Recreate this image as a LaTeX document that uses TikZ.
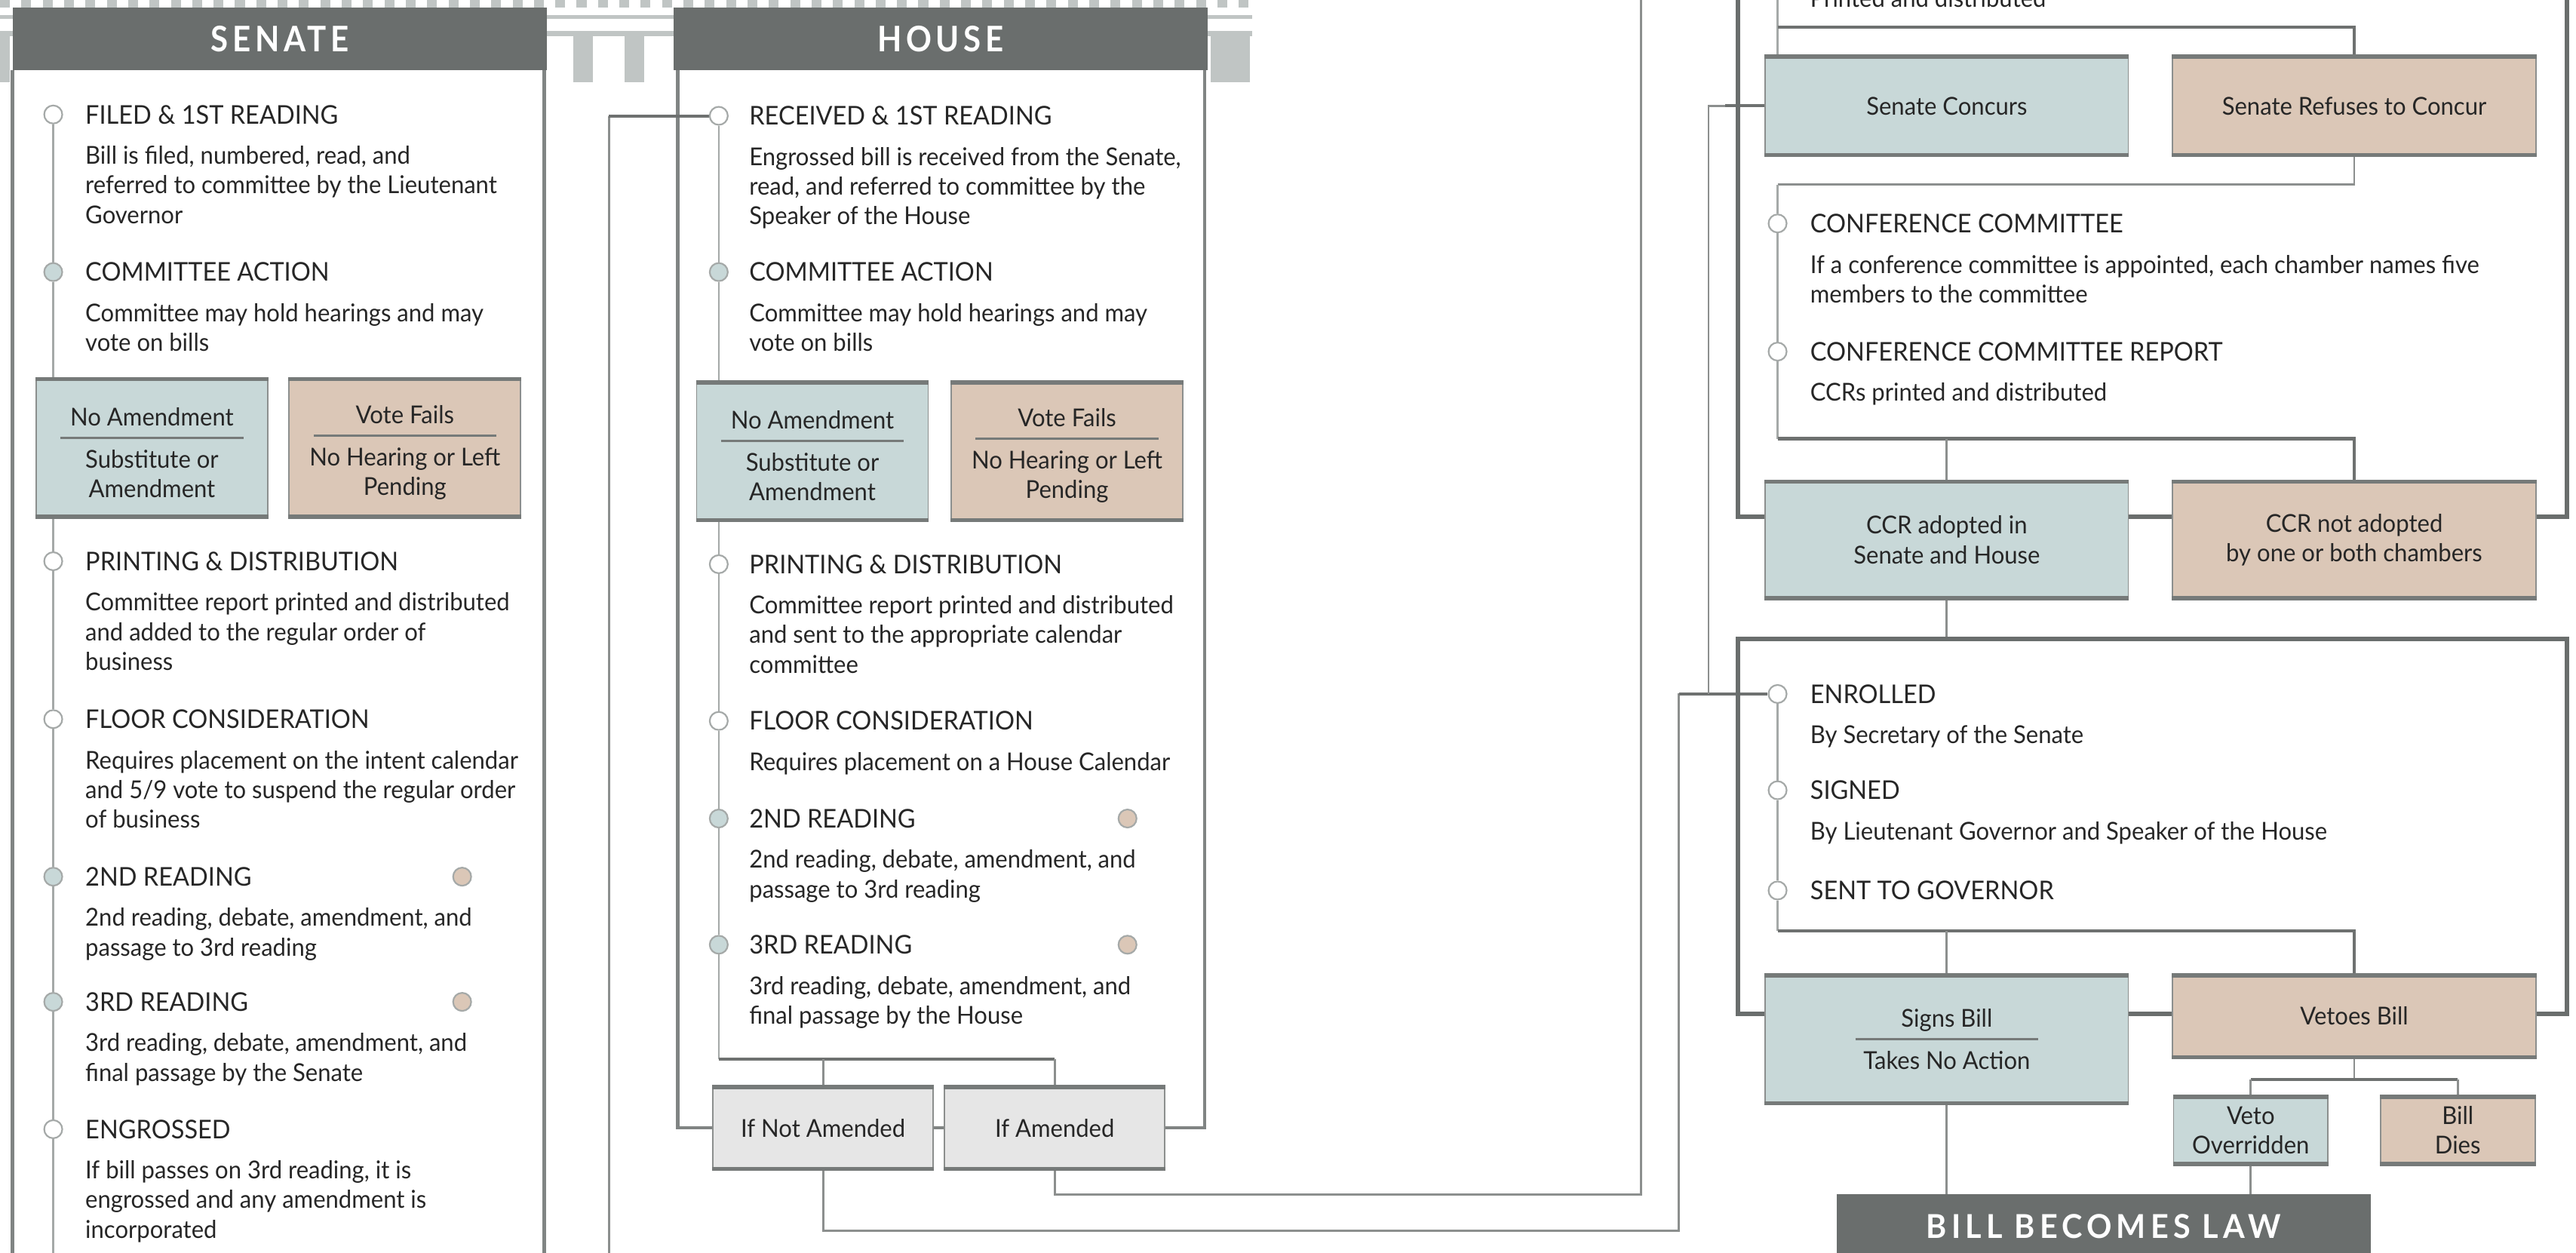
\documentclass[tikz,border=0pt]{standalone}
\usepackage{fontspec}
\setmainfont{Lato}[FakeStretch=0.95]
\newfontfamily\headfont{Lato}[FakeStretch=0.9, LetterSpace=12]
\newfontfamily\lawfont{Lato}[FakeStretch=0.95, LetterSpace=14]
\usepackage{xcolor}
\usetikzlibrary{positioning}

\definecolor{chamberGray}{RGB}{106,110,109}
\definecolor{capitolGray}{RGB}{192,197,196}
\definecolor{agreeBlue}{RGB}{200,216,216}
\definecolor{refuseTan}{RGB}{219,199,183}
\definecolor{neutralGray}{RGB}{230,230,230}
\definecolor{inkGray}{RGB}{38,38,38}
\definecolor{trackGray}{RGB}{165,169,168}
\definecolor{linkGray}{RGB}{140,143,142}
\definecolor{busGray}{RGB}{110,113,112}
\definecolor{boxLine}{RGB}{140,143,142}
\definecolor{boxEdge}{RGB}{118,122,121}

\newcommand{\titlefont}{\fontsize{11}{12.6}\selectfont}
\newcommand{\itemfont}{\fontsize{10.5}{12.6}\selectfont}
\newcommand{\splitrule}{\\[-7pt]{\color{boxEdge}\rule{78pt}{1pt}}\\[-0.4pt]}
\newcommand{\topstrut}{\rule{0pt}{11.7pt}}

\pgfdeclarelayer{back}
\pgfdeclarelayer{links}
\pgfsetlayers{back,links,main}

\tikzset{
  chamber/.style={fill=chamberGray, text=white, inner sep=0pt, minimum width=227.5pt, minimum height=26.6pt, font=\fontsize{15}{18}\headfont\bfseries},
  lawbox/.style={chamber, minimum height=27.3pt, font=\fontsize{14}{17}\lawfont\bfseries},
  opendot/.style={circle, draw=trackGray, fill=white, line width=0.7pt, minimum size=7.7pt, inner sep=0pt},
  passdot/.style={opendot, fill=agreeBlue},
  faildot/.style={opendot, fill=refuseTan},
  itemtitle/.style={anchor=west, inner sep=0pt, font=\titlefont, text=inkGray},
  itemtext/.style={inner sep=0pt, align=left, font=\itemfont, text=inkGray},
  outcome/.style={draw=boxLine, line width=0.6pt, align=center, inner sep=1pt, font=\itemfont, text=inkGray,
    append after command={(\tikzlastnode.north west) edge[draw=boxEdge, line width=1.8pt] (\tikzlastnode.north east)
      (\tikzlastnode.south west) edge[draw=boxEdge, line width=1.8pt] (\tikzlastnode.south east)}},
  agree/.style={outcome, fill=agreeBlue},
  refuse/.style={outcome, fill=refuseTan},
  neutral/.style={outcome, fill=neutralGray},
  choicebox/.style={minimum width=98.7pt, minimum height=58.1pt},
  amendbox/.style={minimum width=93.8pt, minimum height=34.3pt},
  widebox/.style={minimum width=154.7pt},
  narrowbox/.style={minimum width=65.8pt, minimum height=28pt},
  track/.style={draw=trackGray, line width=0.8pt},
  link/.style={draw=linkGray, line width=0.9pt},
  bus/.style={draw=busGray, line width=1.3pt},
  chamberframe/.style={draw=chamberGray, line width=2pt},
  panel/.style={draw=chamberGray!85, line width=1.5pt},
  capitol/.style={fill=capitolGray},
}

\begin{document}
\begin{tikzpicture}[x=0.7pt, y=-0.7pt]
  \useasboundingbox (0,0) rectangle (1568,762.2);

  \node[chamber] (senate) at (170.5,23.5) {SENATE};
  \node[chamber] (house) at (572.5,23.5) {HOUSE};

  % senate column
  \node[opendot] (s1) at (32.4,69.7) {};
  \node[itemtitle] (s1t) at (51.7,69.7) {FILED \& 1ST READING};
  \node[itemtext, below right=9pt and 0pt of s1t.south west] (s1d) {Bill is filed, numbered, read, and\\referred to committee by the Lieutenant\\Governor};
  \node[passdot] (s2) at (32.4,165.6) {};
  \node[itemtitle] (s2t) at (51.7,165.6) {COMMITTEE ACTION};
  \node[itemtext, below right=9pt and 0pt of s2t.south west] (s2d) {Committee may hold hearings and may\\vote on bills};
  \node[agree, choicebox] (snoamend) at (92.5,272.7) {\topstrut No Amendment\splitrule Substitute or\\Amendment};
  \node[refuse, choicebox] (sfail) at (246.5,272.7) {\topstrut Vote Fails\splitrule No Hearing or Left\\Pending};
  \node[opendot] (s3) at (32.4,341.6) {};
  \node[itemtitle] (s3t) at (51.7,341.6) {PRINTING \& DISTRIBUTION};
  \node[itemtext, below right=9pt and 0pt of s3t.south west] (s3d) {Committee report printed and distributed\\and added to the regular order of\\business};
  \node[opendot] (s4) at (32.4,437.7) {};
  \node[itemtitle] (s4t) at (51.7,437.7) {FLOOR CONSIDERATION};
  \node[itemtext, below right=9pt and 0pt of s4t.south west] (s4d) {Requires placement on the intent calendar\\and 5/9 vote to suspend the regular order\\of business};
  \node[passdot] (s5) at (32.4,533.6) {};
  \node[faildot] (s5x) at (281.3,533.6) {};
  \node[itemtitle] (s5t) at (51.7,533.6) {2ND READING};
  \node[itemtext, below right=9pt and 0pt of s5t.south west] (s5d) {2nd reading, debate, amendment, and\\passage to 3rd reading};
  \node[passdot] (s6) at (32.4,609.8) {};
  \node[faildot] (s6x) at (281.3,609.8) {};
  \node[itemtitle] (s6t) at (51.7,609.8) {3RD READING};
  \node[itemtext, below right=9pt and 0pt of s6t.south west] (s6d) {3rd reading, debate, amendment, and\\final passage by the Senate};
  \node[opendot] (s7) at (32.4,687.3) {};
  \node[itemtitle] (s7t) at (51.7,687.3) {ENGROSSED};
  \node[itemtext, below right=9pt and 0pt of s7t.south west] (s7d) {If bill passes on 3rd reading, it is\\engrossed and any amendment is\\incorporated};

  % house column
  \node[opendot] (h1) at (437.5,70.5) {};
  \node[itemtitle] (h1t) at (455.8,70.5) {RECEIVED \& 1ST READING};
  \node[itemtext, below right=9pt and 0pt of h1t.south west] (h1d) {Engrossed bill is received from the Senate,\\read, and referred to committee by the\\Speaker of the House};
  \node[passdot] (h2) at (437.5,165.6) {};
  \node[itemtitle] (h2t) at (455.8,165.6) {COMMITTEE ACTION};
  \node[itemtext, below right=9pt and 0pt of h2t.south west] (h2d) {Committee may hold hearings and may\\vote on bills};
  \node[agree, choicebox] (hnoamend) at (494.5,274.6) {\topstrut No Amendment\splitrule Substitute or\\Amendment};
  \node[refuse, choicebox] (hfail) at (649.5,274.6) {\topstrut Vote Fails\splitrule No Hearing or Left\\Pending};
  \node[opendot] (h3) at (437.5,343.4) {};
  \node[itemtitle] (h3t) at (455.8,343.4) {PRINTING \& DISTRIBUTION};
  \node[itemtext, below right=9pt and 0pt of h3t.south west] (h3d) {Committee report printed and distributed\\and sent to the appropriate calendar\\committee};
  \node[opendot] (h4) at (437.5,438.8) {};
  \node[itemtitle] (h4t) at (455.8,438.8) {FLOOR CONSIDERATION};
  \node[itemtext, below right=9pt and 0pt of h4t.south west] (h4d) {Requires placement on a House Calendar};
  \node[passdot] (h5) at (437.5,498.2) {};
  \node[faildot] (h5x) at (686.3,498.2) {};
  \node[itemtitle] (h5t) at (455.8,498.2) {2ND READING};
  \node[itemtext, below right=9pt and 0pt of h5t.south west] (h5d) {2nd reading, debate, amendment, and\\passage to 3rd reading};
  \node[passdot] (h6) at (437.5,575) {};
  \node[faildot] (h6x) at (686.3,575) {};
  \node[itemtitle] (h6t) at (455.8,575) {3RD READING};
  \node[itemtext, below right=9pt and 0pt of h6t.south west] (h6d) {3rd reading, debate, amendment, and\\final passage by the House};
  \node[neutral, amendbox] (ifnot) at (501,686.5) {If Not Amended};
  \node[neutral, amendbox] (ifamend) at (642,686.5) {If Amended};

  % concurrence and conference
  \node[itemtext, anchor=west] (hprint) at (1101.6,-1) {Printed and distributed};
  \node[agree, widebox, minimum height=41.3pt] (concur) at (1185,64.5) {Senate Concurs};
  \node[refuse, widebox, minimum height=41.3pt] (refusal) at (1433,64.5) {Senate Refuses to Concur};
  \node[opendot] (c1) at (1082,136) {};
  \node[itemtitle] (c1t) at (1101.6,136) {CONFERENCE COMMITTEE};
  \node[itemtext, below right=9pt and 0pt of c1t.south west] (c1d) {If a conference committee is appointed, each chamber names five\\members to the committee};
  \node[opendot] (c2) at (1082,214) {};
  \node[itemtitle] (c2t) at (1101.6,214) {CONFERENCE COMMITTEE REPORT};
  \node[itemtext, below right=9pt and 0pt of c2t.south west] (c2d) {CCRs printed and distributed};
  \node[agree, widebox, minimum height=49pt] (ccryes) at (1185,328.6) {CCR adopted in\\Senate and House};
  \node[refuse, widebox, minimum height=49pt] (ccrno) at (1433,328.6) {CCR not adopted\\by one or both chambers};

  % enrolment and governor
  \node[opendot] (e1) at (1082,422.4) {};
  \node[itemtitle] (e1t) at (1101.6,422.4) {ENROLLED};
  \node[itemtext, below right=9pt and 0pt of e1t.south west] (e1d) {By Secretary of the Senate};
  \node[opendot] (e2) at (1082,481) {};
  \node[itemtitle] (e2t) at (1101.6,481) {SIGNED};
  \node[itemtext, below right=9pt and 0pt of e2t.south west] (e2d) {By Lieutenant Governor and Speaker of the House};
  \node[opendot] (e3) at (1082,542) {};
  \node[itemtitle] (e3t) at (1101.6,542) {SENT TO GOVERNOR};
  \node[agree, widebox, minimum height=53.9pt] (signs) at (1185,632.5) {Signs Bill\splitrule Takes No Action};
  \node[refuse, widebox, minimum height=34.3pt] (vetoes) at (1433,618.5) {Vetoes Bill};
  \node[agree, narrowbox] (override) at (1370,688) {Veto\\Overridden};
  \node[refuse, narrowbox] (dies) at (1496,688) {Bill\\Dies};
  \node[lawbox] (law) at (1280.5,746.5) {BILL BECOMES LAW};

  \coordinate (bottomedge) at (0,775);
  \coordinate (engrossedOut) at (370.7,775);
  \coordinate (hbus) at (437.5,644.6);
  \coordinate (amendTurn) at (999,727);
  \coordinate (toConcur) at (999,-10);
  \coordinate (notTurn) at (1022,749);
  \coordinate (concurDrop) at (1040,422.4);
  \coordinate (ccTop) at (1082,-10);
  \coordinate (concurBus) at (1082,16.4);
  \coordinate (confBus) at (1082,112.3);
  \coordinate (ccrBus) at (1082,267);
  \coordinate (frameTopL) at (1058,-10);
  \coordinate (frameTopR) at (1562.5,-10);
  \coordinate (ccrBarL) at (1058,314.6);
  \coordinate (ccrBarR) at (1562.5,314.6);
  \coordinate (govL) at (1058,389);
  \coordinate (govR) at (1562.5,389);
  \coordinate (govBarL) at (1058,617);
  \coordinate (govBarR) at (1562.5,617);
  \coordinate (govBus) at (1082,566.6);
  \coordinate (vetoBus) at (1433,657);

  \begin{pgfonlayer}{back}
    % capitol silhouette behind the headers
    \foreach \x in {0,13,...,754}
      \fill[capitol] (\x,0) rectangle ++(6,4.5);
    \fill[capitol] (0,9) rectangle (762,11.5);
    \fill[capitol] (0,19) rectangle (762,22);
    \foreach \x in {349,380,737,749}
      \fill[capitol] (\x,22) rectangle ++(12,28);
    \fill[capitol] (0,22) rectangle (6,50);

    \draw[panel] (senate.south west) -- ++(0,740);
    \draw[panel] ([xshift=-1.4pt]senate.south east) -- ++(0,740);
    \draw[panel] ([xshift=2pt]house.south west) |- (ifnot.west);
    \draw[panel] ([xshift=-1.4pt]house.south east) |- (ifamend.east);
    \draw[panel] (ifnot.east) -- (ifamend.west);
  \end{pgfonlayer}

  \begin{pgfonlayer}{links}
    \draw[track] (s1) -- (s2) -- (s3) -- (s4) -- (s5) -- (s6) -- (s7) -- (s7 |- bottomedge);
    \draw[link] (engrossedOut) -- (engrossedOut |- h1);
    \draw[bus] (engrossedOut |- h1) -- (h1);
    \draw[track] (h1) -- (h2) -- (h3) -- (h4) -- (h5) -- (h6) -- (hbus);
    \draw[bus] (hbus) -- (hbus -| ifamend.north);
    \draw[link] (hbus -| ifamend.north) -- (ifamend.north);
    \draw[link] (hbus -| ifnot.north) -- (ifnot.north);
    \draw[link] (ifamend.south) |- (amendTurn) -- (toConcur);
    \draw[link] (ifnot.south) |- (notTurn) |- (e1);
    \draw[bus] (notTurn |- e1) -- (e1);
    \draw[link] (concur.west) -| (concurDrop);
    \draw[bus] (concur.west) -- ++(-24,0);

    \draw[track] (ccTop) -- (ccTop |- concur.north);
    \draw[bus] (concurBus) -| (refusal.north);
    \draw[link] (refusal.south) |- (confBus);
    \draw[track] (confBus) -- (c1) -- (c2) -- (ccrBus);
    \draw[bus] (ccrBus) -| (ccrno.north);
    \draw[link] (ccrBus -| ccryes.north) -- (ccryes.north);
    \draw[chamberframe] (frameTopL) -- (ccrBarL) -- (ccrBarL -| ccryes.west);
    \draw[chamberframe] (ccrBarL -| ccryes.east) -- (ccrBarL -| ccrno.west);
    \draw[chamberframe] (frameTopR) -- (ccrBarR) -- (ccrBarR -| ccrno.east);
    \draw[link] (ccryes.south) -- (ccryes.south |- govL);

    \draw[chamberframe] (govBarL -| signs.west) -- (govBarL) -- (govL) -- (govR) -- (govBarR) -- (govBarR -| vetoes.east);
    \draw[chamberframe] (govBarL -| signs.east) -- (govBarL -| vetoes.west);
    \draw[track] (e1) -- (e2) -- (e3) -- (govBus);
    \draw[bus] (govBus) -| (vetoes.north);
    \draw[link] (govBus -| signs.north) -- (signs.north);
    \draw[link] (vetoes.south) -- (vetoBus);
    \draw[bus] (vetoBus -| override.north) -- (vetoBus -| dies.north);
    \draw[link] (vetoBus -| override.north) -- (override.north);
    \draw[link] (vetoBus -| dies.north) -- (dies.north);
    \draw[link] (signs.south) -- (signs.south |- law.north);
    \draw[link] (override.south) -- (override.south |- law.north);
  \end{pgfonlayer}
\end{tikzpicture}
\end{document}
